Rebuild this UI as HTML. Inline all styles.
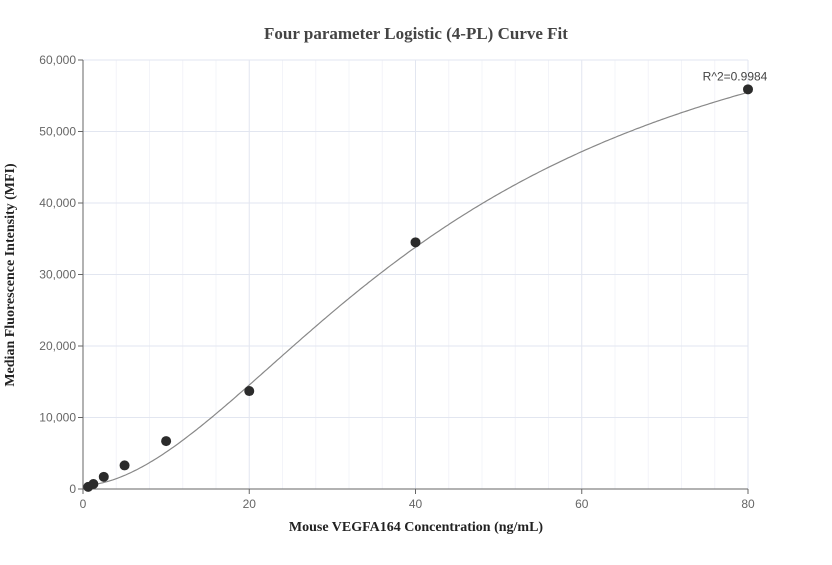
<!DOCTYPE html>
<html><head><meta charset="utf-8"><style>
body{margin:0;background:#fff;}
svg text{font-family:"Liberation Sans",sans-serif;}
</style></head><body>
<svg width="832" height="560" xmlns="http://www.w3.org/2000/svg">
<rect width="832" height="560" fill="#fff"/>
<text x="416" y="39" text-anchor="middle" font-size="17" font-weight="bold" fill="#444" style="font-family:'Liberation Serif',serif">Four parameter Logistic (4-PL) Curve Fit</text>
<g id="grid"></g>
<g id="axes"></g>
<g id="marks"></g>
<text x="416" y="531" text-anchor="middle" font-size="14" font-weight="bold" fill="#222" style="font-family:'Liberation Serif',serif">Mouse VEGFA164 Concentration (ng/mL)</text>
<text transform="translate(14,275) rotate(-90)" text-anchor="middle" font-size="14" font-weight="bold" fill="#222" style="font-family:'Liberation Serif',serif">Median Fluorescence Intensity (MFI)</text>
</svg>
<script>
const xData=[0.625,1.25,2.5,5,10,20,40,80];
const yData=[300,700,1700,3300,6700,13700,34500,55900];
const xTicks=[0,20,40,60,80];
const yTicks=[0,10000,20000,30000,40000,50000,60000];
const fitParams=[500,1.8,45,75000];
const r2Label="R^2=0.9984";
const NS="http://www.w3.org/2000/svg";
const X0=83,X1=748,Y0=489,Y1=60;
const sx=v=>X0+(v-0)/(80-0)*(X1-X0);
const sy=v=>Y0-(v/60000)*(Y0-Y1);
function mk(t,a,p){const e=document.createElementNS(NS,t);for(const k in a)e.setAttribute(k,a[k]);p.appendChild(e);return e;}
const grid=document.getElementById('grid'),axes=document.getElementById('axes'),marks=document.getElementById('marks');
for(let v=4;v<=80;v+=4){const l=mk('line',{x1:sx(v),x2:sx(v),y1:Y1,y2:Y0,stroke:v%20?'#f3f4f9':'#e2e6f0','stroke-width':1},grid);

}
yTicks.forEach(v=>{if(v===0)return;const l=mk('line',{x1:X0,x2:X1,y1:sy(v),y2:sy(v),stroke:'#e2e6f0','stroke-width':1},grid);

});
const ax=mk('line',{x1:X0,x2:X0,y1:Y1,y2:Y0,stroke:'#666'},axes);


const bx=mk('line',{x1:X0,x2:X1,y1:Y0,y2:Y0,stroke:'#666'},axes);


yTicks.forEach(v=>{mk('line',{x1:X0-5,x2:X0,y1:sy(v),y2:sy(v),stroke:'#666'},axes);
const t=mk('text',{x:X0-7,y:sy(v)+4,'text-anchor':'end','font-size':12,fill:'#666'},axes);t.textContent=v.toLocaleString('en-US');

});
xTicks.forEach(v=>{mk('line',{x1:sx(v),x2:sx(v),y1:Y0,y2:Y0+5,stroke:'#666'},axes);
const t=mk('text',{x:sx(v),y:Y0+19,'text-anchor':'middle','font-size':12,fill:'#666'},axes);t.textContent=v;

});
const [a,b,c,d]=fitParams;const f=x=>d+(a-d)/(1+Math.pow(x/c,b));
let pts=[];for(let x=xData[0];x<=80;x+=0.25)pts.push(sx(x).toFixed(1)+','+sy(f(x)).toFixed(1));
const curve=mk('polyline',{points:pts.join(' '),fill:'none',stroke:'#888','stroke-width':1.2},marks);


xData.forEach((x,i)=>{const p=mk('circle',{cx:sx(x),cy:sy(yData[i]),r:5,fill:'#2b2b2b'},marks);

});
const r=mk('text',{x:sx(80)-13,y:sy(yData[7])-9,'text-anchor':'middle','font-size':12,fill:'#444'},marks);r.textContent=r2Label;


</script>
</body></html>
